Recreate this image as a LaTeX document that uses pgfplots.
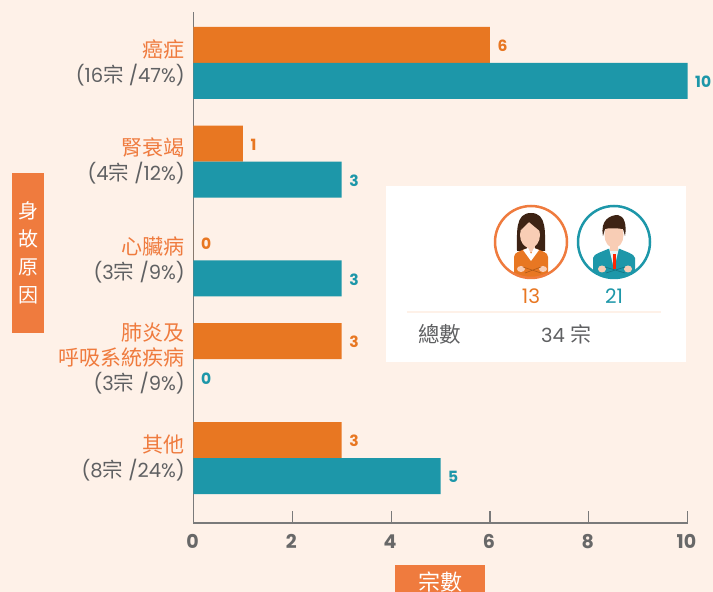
\documentclass[border=0pt]{standalone}
\usepackage{pgfplots}
\pgfplotsset{compat=1.18}
\usepackage{fontspec}
\setmainfont{Poppins}
\newfontfamily\cjk{Noto Sans CJK TC}
\definecolor{bgc}{HTML}{FEF1E8}
\definecolor{ora}{HTML}{E87722}
\definecolor{tea}{HTML}{1D97A9}
\definecolor{lab}{HTML}{EF7B3E}
\definecolor{gry}{HTML}{5F6062}
\definecolor{axc}{HTML}{7A7A7A}
\definecolor{skin}{HTML}{F8CDB5}
\definecolor{hair}{HTML}{3D2314}
\newcommand{\la}[1]{\textcolor{lab}{\cjk #1}}
\newcommand{\lb}[1]{\textcolor{gry}{\fontsize{19.5}{25}\selectfont #1}}
\newcommand{\zong}{{\cjk\fontsize{20.5}{25}\selectfont 宗}}
\begin{document}
\begin{tikzpicture}[x=1pt,y=1pt]
\path[use as bounding box,fill=bgc] (0,0) rectangle (713,592);
\begin{axis}[
  at={(193.5pt,69pt)},anchor=south west,
  scale only axis,width=494pt,height=511pt,
  xmin=0,xmax=10,ymin=-0.658,ymax=4.516,
  axis x line*=bottom,axis y line*=left,
  axis line style={axc,line width=1.5pt,-},
  xtick={0,2,4,6,8,10},
  ytick={0,1,2,3,4},
  yticklabels={
    {\la{其他}\\\lb{(8\zong\ /24\%)}},
    {\la{肺炎及}\\\la{呼吸系統疾病}\\\lb{(3\zong\ /9\%)}},
    {\la{心臟病}\\\lb{(3\zong\ /9\%)}},
    {\la{腎衰竭}\\\lb{(4\zong\ /12\%)}},
    {\la{癌症}\\\lb{(16\zong\ /47\%)}}},
  yticklabel style={align=right,font=\fontsize{21}{25}\selectfont,inner sep=0pt,xshift=-8.5pt,yshift=0.5pt},
  y tick style={draw=none},
  major tick length=12pt,
  xtick align=inside,
  x tick style={axc,line width=1.2pt},
  xticklabel style={text=axc!85!black,font=\fontsize{19}{20}\selectfont\fontseries{sb}\selectfont,yshift=-8pt,xshift=-1pt},
  /pgf/number format/assume math mode=true,
  point meta=x,
  nodes near coords,
  every node near coord/.append style={anchor=west,inner xsep=0pt,xshift=7.5pt,font=\fontsize{15.5}{16}\selectfont\fontseries{sb}\selectfont},
  clip=false,
]
\addplot[xbar,bar width=36pt,bar shift=18pt,fill=ora,draw=none,
  every node near coord/.append style={text=ora,yshift=17pt}]
  coordinates {(3,0) (3,1) (0,2) (1,3) (6,4)};
\addplot[xbar,bar width=36pt,bar shift=-18pt,fill=tea,draw=none,
  every node near coord/.append style={text=tea,yshift=-19pt}]
  coordinates {(5,0) (0,1) (3,2) (3,3) (10,4)};
\end{axis}
% axis-name boxes
\fill[lab] (12,259) rectangle (44,419);
\node[text=white,align=center,font=\cjk\fontsize{20}{28}\selectfont] at (28,339) {身\\故\\原\\因};
\fill[lab] (395,0) rectangle (485,27);
\node[text=white,font=\cjk\fontsize{22}{24}\selectfont] at (440,10) {宗數};
% panel
\fill[white] (386,230) rectangle (686,406);
\draw[bgc,line width=2pt] (407,279.5) -- (661,279.5);
\node[text=gry,font=\cjk\fontsize{21.5}{24}\selectfont] at (439.5,258) {總數};
\node[text=gry,anchor=west,inner sep=0pt,font=\fontsize{19.5}{24}\selectfont] at (541,258) {34 {\cjk\fontsize{21}{24}\selectfont 宗}};
\node[text=ora,font=\fontsize{20}{24}\selectfont] at (531,296) {13};
\node[text=tea,font=\fontsize{20}{24}\selectfont] at (614,296) {21};
% woman
\begin{scope}[shift={(531,350)}]
\begin{scope}
\clip (0,0) circle (36);
\fill[hair] (-14,-9) .. controls (-14,10) and (-16,29) .. (0,29) .. controls (16,29) and (14,10) .. (14,-9) -- cycle;
\fill[ora] (-17,-36) -- (-17,-15) .. controls (-17,-10) and (-10,-9) .. (-6,-7) -- (6,-7) .. controls (10,-9) and (17,-10) .. (17,-15) -- (17,-36) -- cycle;
\fill[skin] (-4,2) rectangle (4,-10);
\fill[skin] (-1,7) ellipse (10 and 13);
\fill[white] (-8,-8) -- (0,-19) -- (8,-8) -- (3,-6) -- (0,-12) -- (-3,-6) -- cycle;
\fill[hair] (-10,12) -- (-2,20) -- (10,10) -- (8,24) -- (-8,24) -- cycle;
\fill[skin] (-10,-27) ellipse (4 and 3);
\fill[skin] (12,-27) ellipse (4 and 3);
\draw[ora!75!black,line width=.6pt] (-8,-25) -- (10,-31) (10,-25) -- (-6,-31);
\end{scope}
\draw[lab,line width=2.5pt] (0,0) circle (36);
\end{scope}
% man
\begin{scope}[shift={(614,350)}]
\begin{scope}
\clip (0,0) circle (36);
\fill[tea] (-21,-36) -- (-21,-16) .. controls (-21,-12) and (-10,-9) .. (-6,-7) -- (6,-7) .. controls (10,-9) and (21,-12) .. (21,-16) -- (21,-36) -- cycle;
\fill[white!90!tea] (-5,-6) -- (0,-27) -- (5,-6) -- cycle;
\fill[skin] (-4,0) rectangle (4,-9);
\fill[skin] (0,7) ellipse (9.5 and 13);
\fill[red!70!orange] (-1.5,-12) rectangle (1.5,-27);
\fill[hair] (-11,6) .. controls (-14,22) and (-4,27) .. (4,27) .. controls (10,26) and (13,18) .. (11,6) -- (9,13) .. controls (2,14) and (-6,14) .. (-9,13) -- cycle;
\fill[skin] (-12,-27) ellipse (4 and 3.5);
\fill[skin] (14,-27) ellipse (4 and 3.5);
\draw[tea!75!black,line width=.6pt] (-9,-25) -- (11,-31) (11,-25) -- (-8,-31);
\end{scope}
\draw[tea,line width=2.5pt] (0,0) circle (36);
\end{scope}
\end{tikzpicture}
\end{document}
